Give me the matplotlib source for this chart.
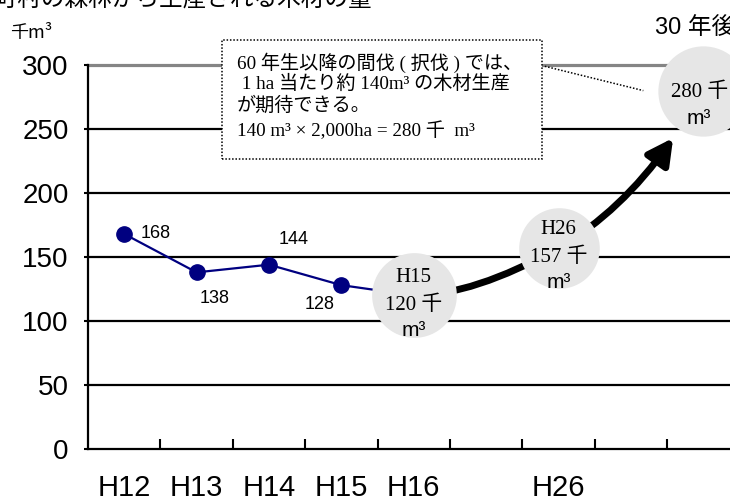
import matplotlib
matplotlib.use("Agg")
import matplotlib.pyplot as plt
from matplotlib.patches import FancyArrowPatch, Rectangle
from matplotlib.path import Path
from matplotlib import font_manager

# ---- data -------------------------------------------------------------
categories = ["H12", "H13", "H14", "H15", "H16", "", "H26", "", ""]
actual_values = [168, 138, 144, 128, 120]          # H12 .. H16 (H16 point = H15 level)
forecast_points = [4, 6, 8]                         # category index of H16, H26, 30 years later
forecast_values = [120, 157, 280]
bubble_titles = ["H15", "H26", ""]
y_ticks = [0, 50, 100, 150, 200, 250, 300]

title_text = "市町村の森林から生産される木材の量"
unit_text = "千m³"
future_text = "30 年後"
note_lines = [
    "60 年生以降の間伐 ( 択伐 ) では、",
    " 1 ha 当たり約 140m³ の木材生産",
    "が期待できる。",
    "140 m³ × 2,000ha = 280 千  m³",
]

# ---- fonts ------------------------------------------------------------
installed = {f.name for f in font_manager.fontManager.ttflist}
narrow = "Liberation Sans Narrow" if "Liberation Sans Narrow" in installed else "Liberation Sans"
jp = "Noto Sans CJK JP"
sans_fam = [narrow, jp, "DejaVu Sans"]
serif_fam = ["Liberation Serif", jp, "DejaVu Sans"]
plt.rcParams["font.family"] = ["Liberation Sans", jp, "DejaVu Sans"]

W, H = 730, 503
fig = plt.figure(figsize=(W / 100, H / 100), dpi=100)
ax = fig.add_axes([88 / W, 54 / H, 651.6 / W, 384 / H])

n = len(categories)
ax.set_xlim(0, n)
ax.set_ylim(0, 300)

# spines
for s in ("top", "right"):
    ax.spines[s].set_visible(False)
for s in ("left", "bottom"):
    ax.spines[s].set_linewidth(1.6)
    ax.spines[s].set_color("black")

# y axis: grid lines at each tick, top line grey
ax.set_yticks(y_ticks)
ax.set_yticklabels([str(v) for v in y_ticks], family=sans_fam, fontsize=20)
ax.tick_params(axis="y", direction="out", length=3, width=1.5, pad=11)
for v in y_ticks[1:]:
    if v == y_ticks[-1]:
        ax.axhline(v, color="#858585", lw=2.3, zorder=1, clip_on=False)
    else:
        ax.axhline(v, color="black", lw=1.6, zorder=1)

# x axis: ticks at category boundaries, labels at centres
ax.set_xticks(range(1, n))
ax.set_xticklabels([])
ax.tick_params(axis="x", which="major", direction="in", length=7, width=1.5)
ax.set_xticks([i + 0.5 for i in range(n)], minor=True)
ax.set_xticklabels(categories, minor=True, family=sans_fam, fontsize=21)
ax.tick_params(axis="x", which="minor", length=0, pad=18)

# actual production line
xs = [i + 0.5 for i in range(len(actual_values))]
ax.plot(xs, actual_values, color="#000080", lw=1.6, marker="o", ms=11,
        zorder=3, clip_on=False)
label_offsets = [(12, 0, "left"), (13, -19, "center"), (18, 18, "center"), (-16, -14, "center")]
for x, v, (dx, dy, ha) in zip(xs, actual_values, label_offsets):
    ax.annotate(str(v), (x, v), xytext=(dx, dy), textcoords="offset points",
                ha=ha, va="center", fontsize=13, family=["Liberation Sans"],
                zorder=6)

# forecast curve (quadratic segments through the forecast values)
fx = [p + 0.5 for p in forecast_points]
fy = forecast_values
c0 = (fx[0] + 0.41 * (fx[1] - fx[0]), fy[0])
c1 = (fx[1] + 0.56 * (fx[2] - fx[1]), fy[1] + 0.30 * (fy[2] - fy[1]))
t = 0.77
p1 = (fx[1], fy[1])
p2 = (fx[2], fy[2])
c1t = (p1[0] + t * (c1[0] - p1[0]), p1[1] + t * (c1[1] - p1[1]))
end = ((1 - t) ** 2 * p1[0] + 2 * t * (1 - t) * c1[0] + t ** 2 * p2[0],
       (1 - t) ** 2 * p1[1] + 2 * t * (1 - t) * c1[1] + t ** 2 * p2[1])
verts = [(fx[0], fy[0]), c0, p1, c1t, end]
codes = [Path.MOVETO, Path.CURVE3, Path.CURVE3, Path.CURVE3, Path.CURVE3]
arrow = FancyArrowPatch(path=Path(verts, codes),
                        arrowstyle="-|>,head_length=0.95,head_width=0.5",
                        mutation_scale=16, lw=5, color="black",
                        zorder=4, clip_on=False)
ax.add_patch(arrow)

# bubbles
sizes = [61, 58, 65]
for x, v, sz, ttl in zip(fx, fy, sizes, bubble_titles):
    ax.scatter([x], [v], s=sz ** 2, color="#e6e6e6", zorder=5, clip_on=False,
               linewidths=0)
    if ttl:
        ax.annotate(ttl, (x, v), xytext=(0, 13), textcoords="offset points",
                    ha="center", va="center", fontsize=15, family=serif_fam, zorder=6)
        ax.annotate(f"{v} 千", (x, v), xytext=(0, -7), textcoords="offset points",
                    ha="center", va="center", fontsize=15, family=serif_fam, zorder=6)
        ax.annotate("m³", (x, v), xytext=(0, -25), textcoords="offset points",
                    ha="center", va="center", fontsize=15, family=sans_fam, zorder=6)
    else:
        ax.annotate(f"{v} 千", (x, v), xytext=(-3, -1), textcoords="offset points",
                    ha="center", va="center", fontsize=15, family=serif_fam, zorder=6,
                    annotation_clip=False)
        ax.annotate("m³", (x, v), xytext=(-3, -20), textcoords="offset points",
                    ha="center", va="center", fontsize=15, family=sans_fam, zorder=6,
                    annotation_clip=False)

# note box
bx0, bx1, by0, by1 = 1.85, 6.27, 226.5, 319.5
ax.add_patch(Rectangle((bx0, by0), bx1 - bx0, by1 - by0, facecolor="white",
                       edgecolor="black", lw=1.1, ls=(0, (1, 1.2)), zorder=7,
                       clip_on=False))
line_y = [301.5, 285, 268, 248.5]
for txt, yy in zip(note_lines, line_y):
    ax.text(bx0 + 0.21, yy, txt, fontsize=13.8, family=serif_fam, ha="left",
            va="center", zorder=8, clip_on=False)
ax.plot([bx1 + 0.04, fx[2] - 0.83], [y_ticks[-1] - 1, fy[2]], color="black", lw=1.1,
        ls=(0, (1, 1.2)), zorder=7, clip_on=False)

# figure texts
fig.text(-29 / W, 1 - 6 / H, title_text, fontsize=17, family=[jp], ha="left",
         va="baseline")
fig.text(10 / W, 1 - 33 / H, unit_text, fontsize=13, family=[jp, "Liberation Sans"],
         ha="left", va="center")
fig.text(655 / W, 1 - 28 / H, future_text, fontsize=17, family=sans_fam, ha="left",
         va="center")

fig.savefig("out.png", dpi=100)
